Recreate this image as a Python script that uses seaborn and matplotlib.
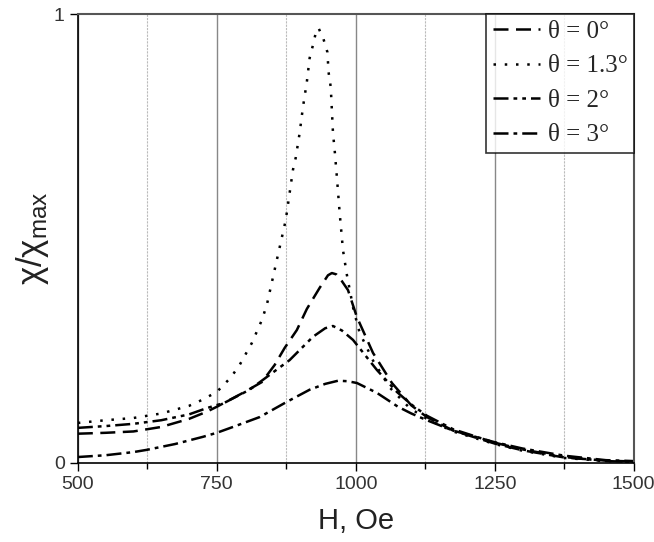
import numpy as np
import pandas as pd
import matplotlib
matplotlib.use("Agg")
import matplotlib.pyplot as plt
from matplotlib.ticker import MultipleLocator
import seaborn as sns

# field values (Oe) and normalized susceptibility
h_0 = [500, 550, 600, 650, 700, 732, 750, 797, 831, 854, 872, 894, 912, 935, 950, 957,
       965, 975, 986, 1002, 1031, 1065, 1100, 1128, 1175, 1250, 1300, 1375, 1450, 1500]
chi_0 = [0.065, 0.067, 0.070, 0.080, 0.098, 0.114, 0.125, 0.156, 0.180, 0.218, 0.256, 0.296,
         0.343, 0.390, 0.418, 0.423, 0.420, 0.405, 0.385, 0.325, 0.245, 0.178, 0.128, 0.102,
         0.072, 0.043, 0.028, 0.012, 0.005, 0.003]

h_13 = [500, 550, 600, 650, 700, 723, 750, 775, 791, 813, 831, 840, 854, 874, 887, 892,
        899, 905, 912, 917, 923, 928, 933, 942, 949, 951, 955, 957, 959, 962, 966, 971,
        977, 984, 996, 1007, 1031, 1061, 1097, 1128, 1175, 1250, 1300, 1375, 1450, 1500]
chi_13 = [0.089, 0.095, 0.100, 0.110, 0.127, 0.140, 0.158, 0.190, 0.218, 0.267, 0.318, 0.352,
          0.430, 0.541, 0.653, 0.680, 0.735, 0.793, 0.849, 0.902, 0.931, 0.958, 0.969, 0.944,
          0.915, 0.871, 0.837, 0.786, 0.735, 0.697, 0.637, 0.557, 0.474, 0.419, 0.341, 0.290,
          0.228, 0.168, 0.122, 0.098, 0.070, 0.042, 0.027, 0.011, 0.004, 0.002]

h_2 = [500, 550, 600, 650, 700, 732, 764, 809, 845, 881, 923, 945, 959, 975, 995, 1038,
       1074, 1100, 1128, 1175, 1250, 1300, 1375, 1450, 1500]
chi_2 = [0.078, 0.082, 0.087, 0.095, 0.108, 0.122, 0.134, 0.163, 0.196, 0.229, 0.281, 0.300,
         0.305, 0.295, 0.274, 0.207, 0.158, 0.130, 0.105, 0.075, 0.045, 0.030, 0.013, 0.004, 0.002]

h_3 = [500, 550, 600, 624, 675, 725, 750, 779, 827, 876, 917, 945, 968, 985, 1002, 1038,
       1076, 1100, 1128, 1175, 1250, 1300, 1375, 1450, 1500]
chi_3 = [0.013, 0.017, 0.024, 0.029, 0.042, 0.058, 0.067, 0.080, 0.102, 0.136, 0.163, 0.176,
         0.183, 0.182, 0.178, 0.156, 0.125, 0.110, 0.095, 0.072, 0.046, 0.032, 0.016, 0.006, 0.004]

labels = ["θ = 0°", "θ = 1.3°", "θ = 2°", "θ = 3°"]

df = pd.concat([
    pd.DataFrame({"H": h_0, "chi": chi_0, "angle": labels[0]}),
    pd.DataFrame({"H": h_13, "chi": chi_13, "angle": labels[1]}),
    pd.DataFrame({"H": h_2, "chi": chi_2, "angle": labels[2]}),
    pd.DataFrame({"H": h_3, "chi": chi_3, "angle": labels[3]}),
])

sns.set_style("white")
plt.rcParams["font.family"] = ["Liberation Sans", "DejaVu Sans"]
plt.rcParams["mathtext.fontset"] = "custom"
plt.rcParams["mathtext.rm"] = "Liberation Sans"
plt.rcParams["mathtext.it"] = "Liberation Sans"

dash_styles = {
    labels[0]: (6, 3),
    labels[1]: (1, 3.5),
    labels[2]: (6, 2, 1.5, 2, 1.5, 2),
    labels[3]: (6, 2, 1.5, 2),
}

fig = plt.figure(figsize=(6.54, 5.42), dpi=100)
ax = fig.add_axes([0.119, 0.146, 0.850, 0.828])

sns.lineplot(data=df, x="H", y="chi", hue="angle", style="angle",
             palette=["black"] * 4, dashes=dash_styles, estimator=None,
             sort=True, linewidth=1.8, ax=ax)

ax.set_xlim(500, 1500)
ax.set_ylim(0, 1)
ax.xaxis.set_major_locator(MultipleLocator(250))
ax.xaxis.set_minor_locator(MultipleLocator(125))
ax.set_yticks([0, 1])
ax.set_yticklabels(["0", "1"])

ax.grid(axis="x", which="major", color="#888888", linewidth=1.0, linestyle="-")
ax.grid(axis="x", which="minor", color="#bbbbbb", linewidth=0.8, linestyle=(0, (2, 1)))
ax.grid(axis="y", visible=False)

ax.tick_params(axis="both", which="major", direction="out", length=6, width=1,
               color="black", labelsize=14, labelcolor="#333333", bottom=True, left=True)
ax.tick_params(axis="x", which="minor", direction="out", length=4, width=1,
               color="black", bottom=True)

for side in ["left", "bottom"]:
    ax.spines[side].set_color("black")
    ax.spines[side].set_linewidth(1.2)
for side in ["top", "right"]:
    ax.spines[side].set_color("#555555")
    ax.spines[side].set_linewidth(1.5)

ax.set_xlabel("H, Oe", fontsize=21, color="#222222", labelpad=10)
ax.set_ylabel(r"$\chi/\chi_{\rm max}$", fontsize=25, color="#222222", labelpad=2)

handles, labs = ax.get_legend_handles_labels()
leg = ax.legend(handles, labs, loc="upper right", frameon=True, fancybox=False,
                prop={"family": "Liberation Serif", "size": 18},
                handlelength=1.9, handletextpad=0.3, labelspacing=0.48,
                borderpad=0.25, borderaxespad=0.0)
leg.get_frame().set_edgecolor("black")
leg.get_frame().set_linewidth(1.2)
for line in leg.get_lines():
    line.set_linewidth(1.8)

fig.savefig("out.png", dpi=100)
